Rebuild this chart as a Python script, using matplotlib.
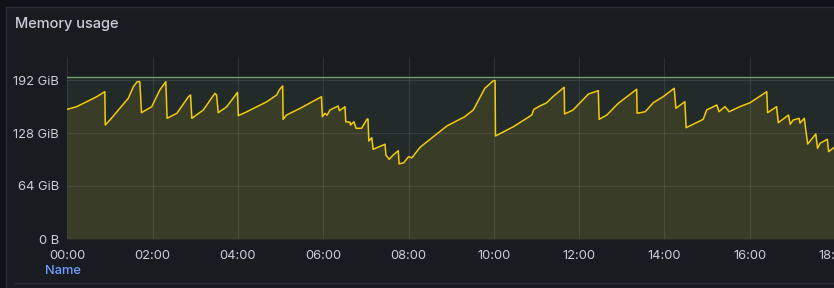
import matplotlib
matplotlib.use("Agg")
import matplotlib.pyplot as plt
from matplotlib.patches import Rectangle
from matplotlib.lines import Line2D

# ---- data (hours since 00:00, GiB) ----
hours = [0.00, 0.22, 0.69, 0.88, 0.89, 1.00, 1.43, 1.55, 1.64, 1.70, 1.74, 1.98,
         2.17, 2.31, 2.34, 2.57, 2.84, 2.89, 2.92, 3.19, 3.46, 3.50, 3.54, 3.74,
         3.99, 4.01, 4.21, 4.68, 4.91, 4.97, 5.05, 5.06, 5.14, 5.46, 5.96, 5.98,
         6.04, 6.09, 6.16, 6.35, 6.38, 6.51, 6.53, 6.63, 6.64, 6.72, 6.77, 6.90,
         7.03, 7.05, 7.07, 7.14, 7.17, 7.45, 7.47, 7.55, 7.64, 7.76, 7.78, 7.89,
         8.00, 8.08, 8.27, 8.90, 9.32, 9.52, 9.79, 9.99, 10.03, 10.04, 10.46, 10.89,
         10.94, 11.08, 11.24, 11.40, 11.65, 11.66, 11.86, 12.22, 12.45, 12.47, 12.65,
         12.92, 13.35, 13.36, 13.55, 13.74, 13.97, 14.23, 14.27, 14.48, 14.51, 14.91,
         14.99, 15.23, 15.28, 15.42, 15.52, 15.77, 16.01, 16.40, 16.42, 16.63, 16.67,
         16.91, 16.95, 17.02, 17.16, 17.18, 17.28, 17.31, 17.36, 17.55, 17.59, 17.65,
         17.82, 17.85, 17.98, 18.30]
memory_gib = [156.6, 159.8, 171.8, 177.9, 137.7, 143.7, 169.9, 184.0, 190.0, 190.0, 152.5, 159.8,
              180.0, 190.0, 145.7, 151.8, 171.8, 173.9, 145.7, 155.8, 175.9, 174.0, 152.5, 159.8,
              177.1, 148.9, 153.7, 165.8, 173.9, 180.0, 184.8, 144.5, 149.7, 157.8, 171.8, 147.7,
              151.8, 149.5, 155.8, 160.6, 154.9, 159.8, 141.6, 141.0, 137.7, 141.6, 133.7, 133.7,
              144.9, 145.0, 118.3, 122.3, 108.3, 114.4, 101.4, 96.2, 101.4, 106.6, 90.6, 92.1,
              99.4, 98.0, 110.7, 136.5, 147.7, 155.8, 182.0, 191.2, 191.2, 124.4, 135.6, 149.7,
              156.6, 160.6, 164.5, 172.5, 183.2, 151.0, 155.8, 175.1, 179.1, 144.5, 149.7,
              163.9, 180.8, 151.8, 153.7, 164.6, 171.8, 182.0, 157.8, 165.8, 134.4, 144.5,
              155.8, 161.8, 153.7, 159.8, 153.7, 159.8, 164.6, 177.9, 152.5, 159.8, 140.4,
              149.7, 138.5, 143.7, 145.7, 140.0, 145.7, 133.7, 114.7, 126.8, 109.5, 115.6,
              120.4, 105.4, 110.7, 114.0]
total_gib = 195.5
y_ticks = [0, 64, 128, 192]
y_tick_labels = ["0 B", "64 GiB", "128 GiB", "192 GiB"]
x_ticks = [0, 2, 4, 6, 8, 10, 12, 14, 16, 18]
x_tick_labels = ["00:00", "02:00", "04:00", "06:00", "08:00", "10:00",
                 "12:00", "14:00", "16:00", "18:00"]

W, H = 834, 288
fig = plt.figure(figsize=(W / 100, H / 100), dpi=100)
fig.patch.set_facecolor("#111217")

# panel
panel = Rectangle((6 / W, -0.1), 1.0, (288 - 7) / H + 0.1, transform=fig.transFigure,
                  facecolor="#181b1f", edgecolor="#2a2d33", linewidth=1.0, zorder=-5)
fig.patches.append(panel)

fig.text(15 / W, 1 - 24 / H, "Memory usage", family=["Inter", "DejaVu Sans"],
         fontsize=10.5, fontweight="medium", color="#ccccdc", va="center", ha="left",
         zorder=5)

x0, x1 = 67.3, 67.3 + 18.3 * 42.65
y_bot, y_top = 239, 57
ax = fig.add_axes([x0 / W, (H - y_bot) / H, (x1 - x0) / W, (y_bot - y_top) / H])
ax.set_zorder(2)
ax.set_facecolor("#181b1f")
ax.set_xlim(0, 18.3)
ax.set_ylim(0, (y_bot - y_top) * 64 / 53)

ax.fill_between([0, 18.3], 0, total_gib, color="#222a2a", linewidth=0, zorder=1)
ax.plot([0, 18.3], [total_gib, total_gib], color="#6f9f6a", linewidth=1.0, zorder=3)
ax.fill_between(hours, 0, memory_gib, color="#393c27", linewidth=0, zorder=2)
ax.plot(hours, memory_gib, color="#f2cc0c", linewidth=1.1, zorder=4)

ax.set_xticks(x_ticks)
ax.set_xticklabels(x_tick_labels)
ax.set_yticks(y_ticks)
ax.set_yticklabels(y_tick_labels)
ax.grid(True, color="#ccccdc", alpha=0.12, linewidth=0.8, zorder=2.5)
ax.set_axisbelow(False)
for s in ax.spines.values():
    s.set_visible(False)
ax.tick_params(axis="x", length=0, pad=8, colors="#ccccdc", labelsize=9.3)
ax.tick_params(axis="y", length=0, pad=6, colors="#ccccdc", labelsize=9.3)
for lab in ax.get_xticklabels() + ax.get_yticklabels():
    lab.set_family(["Inter", "DejaVu Sans"])

fig.text(45 / W, 1 - 271 / H, "Name", family=["Inter", "DejaVu Sans"], fontsize=9.3,
         fontweight="medium", color="#6e9fff", va="center", ha="left", zorder=5)
fig.lines.append(Line2D([15 / W, 1.0], [1 - 283 / H, 1 - 283 / H], transform=fig.transFigure,
                        color="#2a2d33", linewidth=1.0))

fig.savefig("out.png", dpi=100, facecolor=fig.get_facecolor())
